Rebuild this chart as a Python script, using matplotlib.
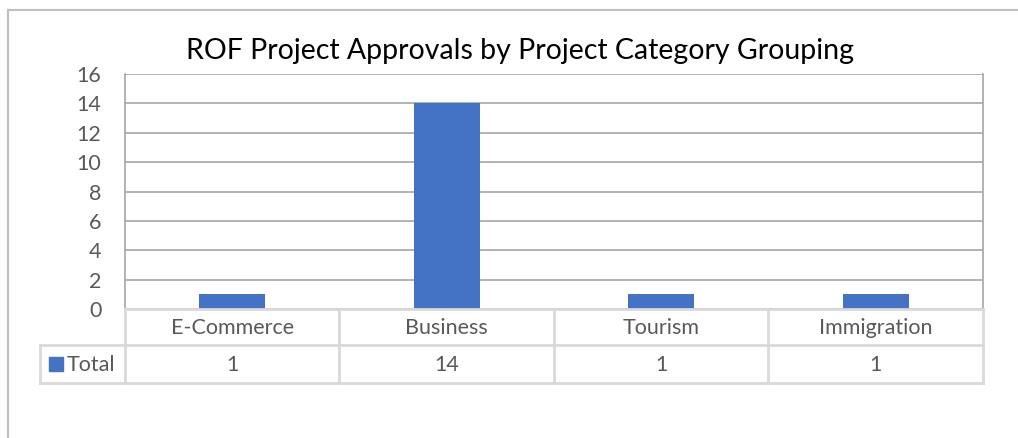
import numpy as np
import matplotlib.pyplot as plt

categories = ["E-Commerce", "Business", "Tourism", "Immigration"]
totals = [1, 14, 1, 1]
series_name = "Total"
y_ticks = [0, 2, 4, 6, 8, 10, 12, 14, 16]
title = "ROF Project Approvals by Project Category Grouping"

W, H = 1018, 438
bar_color = "#4472C4"
text_color = "#595959"
grid_color = "#A6A6A6"
table_color = "#D9D9D9"
font = "Lato"
label_size = 15.5

plt.rcParams["font.family"] = [font, "DejaVu Sans"]

fig = plt.figure(figsize=(W / 100, H / 100), dpi=100)

# plot area in pixels
px_left, px_right, px_top, px_bottom = 125, 983, 74, 309
ax = fig.add_axes([px_left / W, 1 - px_bottom / H,
                   (px_right - px_left) / W, (px_bottom - px_top) / H])

x = np.arange(len(categories))
ax.bar(x, totals, width=0.31, color=bar_color, zorder=3)
ax.set_xlim(-0.5, len(categories) - 0.5)
ax.set_ylim(0, 16)
ax.set_yticks(y_ticks)
ax.set_yticklabels([str(t) for t in y_ticks], fontsize=label_size, color=text_color)
ax.tick_params(axis="y", length=0, pad=17)
ax.set_xticks([])
ax.grid(axis="y", color=grid_color, linewidth=1.2, zorder=0)
for s in ["top", "bottom"]:
    ax.spines[s].set_visible(False)
for s in ["left", "right"]:
    ax.spines[s].set_color(grid_color)
    ax.spines[s].set_linewidth(1.2)

# overlay in pixel coordinates for chart border and data table
ov = fig.add_axes([0, 0, 1, 1], zorder=-1)
ov.set_xlim(0, W)
ov.set_ylim(H, 0)
ov.axis("off")
ov.patch.set_alpha(0)

ov.plot([8.5, 8.5], [10, H], color="#BFBFBF", lw=1.5)
ov.plot([8, W], [10, 10], color="#BFBFBF", lw=1.5)

ov.text((183 + 857) / 2, 51, title, fontsize=20.5, color="black",
        ha="center", va="center")

# data table
col_w = (px_right - px_left) / len(categories)
row1_top, row1_bot, row2_bot = px_bottom, 345, 383
tbl_left = 40
ov_t = fig.add_axes([0, 0, 1, 1])
ov_t.set_xlim(0, W)
ov_t.set_ylim(H, 0)
ov_t.axis("off")
ov_t.patch.set_alpha(0)
lw = 2
ov_t.plot([px_left, px_right], [row1_top, row1_top], color=table_color, lw=lw)
ov_t.plot([tbl_left, px_right], [row1_bot, row1_bot], color=table_color, lw=lw)
ov_t.plot([tbl_left, px_right], [row2_bot, row2_bot], color=table_color, lw=lw)
ov_t.plot([tbl_left, tbl_left], [row1_bot, row2_bot], color=table_color, lw=lw)
for i in range(len(categories) + 1):
    xc = px_left + i * col_w
    ov_t.plot([xc, xc], [row1_top, row2_bot], color=table_color, lw=lw)
for i, (cat, val) in enumerate(zip(categories, totals)):
    xc = px_left + (i + 0.5) * col_w
    ov_t.text(xc, (row1_top + row1_bot) / 2 + 1, cat, fontsize=label_size,
              color=text_color, ha="center", va="center")
    ov_t.text(xc, (row1_bot + row2_bot) / 2 + 1, str(val), fontsize=label_size,
              color=text_color, ha="center", va="center")

ov_t.add_patch(plt.Rectangle((49, 357), 14, 14, color=bar_color))
ov_t.text(67, (row1_bot + row2_bot) / 2 + 1, series_name, fontsize=label_size,
          color=text_color, ha="left", va="center")

fig.savefig("out.png", dpi=100)
